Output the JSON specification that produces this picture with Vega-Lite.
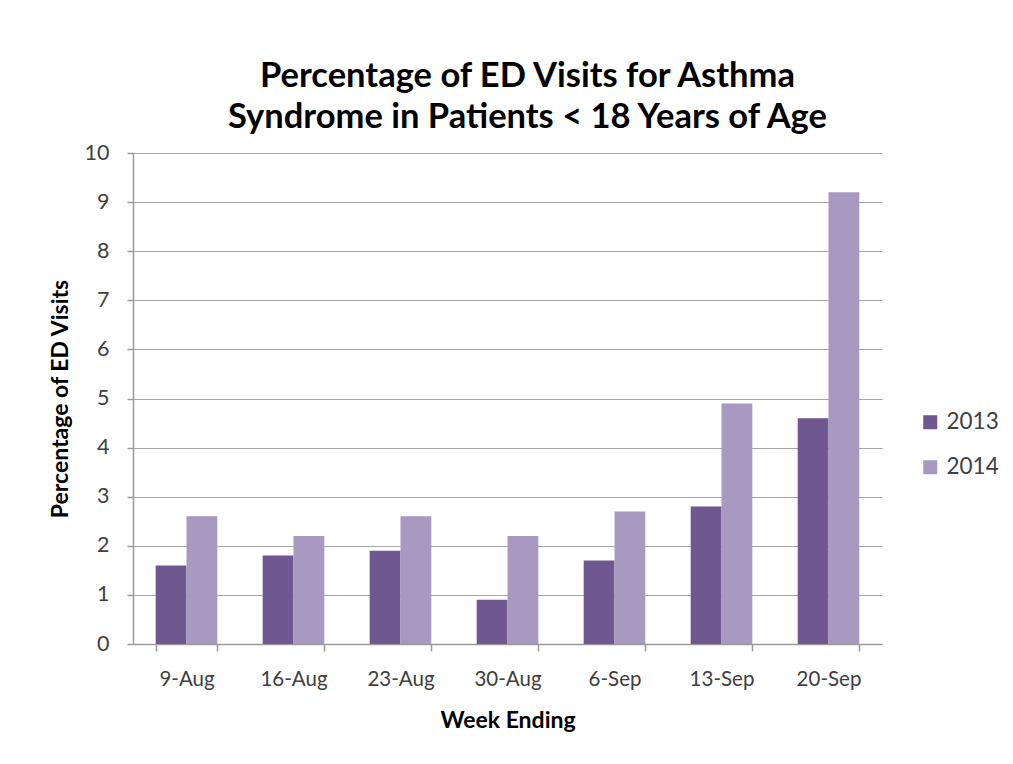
{
  "$schema": "https://vega.github.io/schema/vega-lite/v6.json",
  "width": 749,
  "height": 491,
  "autosize": {"type": "none"},
  "padding": {"left": 133, "top": 153, "right": 131, "bottom": 120},
  "background": "white",
  "title": {
    "text": ["Percentage of ED Visits for Asthma", "Syndrome in Patients < 18 Years of Age"],
    "font": "Lato",
    "fontSize": 34.5,
    "fontWeight": "bold",
    "color": "#000000",
    "anchor": "middle",
    "dx": 20,
    "offset": 7,
    "lineHeight": 41
  },
  "data": {
    "values": [
      {"week": "9-Aug", "year": "2013", "pct": 1.6},
      {"week": "9-Aug", "year": "2014", "pct": 2.6},
      {"week": "16-Aug", "year": "2013", "pct": 1.8},
      {"week": "16-Aug", "year": "2014", "pct": 2.2},
      {"week": "23-Aug", "year": "2013", "pct": 1.9},
      {"week": "23-Aug", "year": "2014", "pct": 2.6},
      {"week": "30-Aug", "year": "2013", "pct": 0.9},
      {"week": "30-Aug", "year": "2014", "pct": 2.2},
      {"week": "6-Sep", "year": "2013", "pct": 1.7},
      {"week": "6-Sep", "year": "2014", "pct": 2.7},
      {"week": "13-Sep", "year": "2013", "pct": 2.8},
      {"week": "13-Sep", "year": "2014", "pct": 4.9},
      {"week": "20-Sep", "year": "2013", "pct": 4.6},
      {"week": "20-Sep", "year": "2014", "pct": 9.2}
    ]
  },
  "mark": {"type": "bar"},
  "encoding": {
    "x": {
      "field": "week",
      "type": "nominal",
      "sort": null,
      "title": "Week Ending",
      "scale": {"paddingInner": 0.424, "paddingOuter": 0.212},
      "axis": {
        "labelAngle": 0,
        "tickBand": "extent",
        "tickSize": 7,
        "labelPadding": 18,
        "titlePadding": 20,
        "domainColor": "#9a9a9a",
        "tickColor": "#9a9a9a",
        "labelColor": "#404040",
        "labelFont": "Lato",
        "labelFontSize": 20.5,
        "titleFont": "Lato",
        "titleFontSize": 23,
        "titleFontWeight": "bold",
        "titleColor": "#000000",
        "grid": false
      }
    },
    "xOffset": {"field": "year", "type": "nominal"},
    "y": {
      "field": "pct",
      "type": "quantitative",
      "title": "Percentage of ED Visits",
      "scale": {"domain": [0, 10], "nice": false},
      "axis": {
        "values": [0, 1, 2, 3, 4, 5, 6, 7, 8, 9, 10],
        "tickSize": 6,
        "labelPadding": 18,
        "titlePadding": 12,
        "domainColor": "#9a9a9a",
        "tickColor": "#9a9a9a",
        "gridColor": "#a6a6a6",
        "labelColor": "#404040",
        "labelFont": "Lato",
        "labelFontSize": 21.5,
        "titleFont": "Lato",
        "titleFontSize": 23,
        "titleFontWeight": "bold",
        "titleColor": "#000000"
      }
    },
    "color": {
      "field": "year",
      "type": "nominal",
      "title": null,
      "scale": {"domain": ["2013", "2014"], "range": ["#6f578f", "#a899c1"]},
      "legend": {
        "orient": "none",
        "legendX": 786,
        "legendY": 258,
        "symbolType": "square",
        "symbolSize": 196,
        "symbolStrokeWidth": 0,
        "symbolOpacity": 1,
        "labelFont": "Lato",
        "labelFontSize": 22.5,
        "labelColor": "#404040",
        "labelOffset": 5,
        "rowPadding": 22
      }
    }
  },
  "config": {
    "view": {"stroke": null},
    "axis": {"domainWidth": 1.5, "tickWidth": 1.5}
  }
}
